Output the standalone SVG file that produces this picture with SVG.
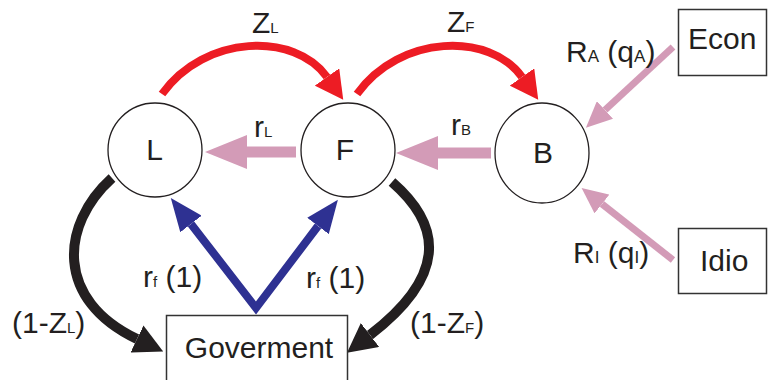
<svg xmlns="http://www.w3.org/2000/svg" width="769" height="380" viewBox="0 0 769 380">
<style>
text{font-family:"Liberation Sans",Arial,sans-serif;font-size:30px;fill:#231f20}
.s{font-size:15px}
.s2{font-size:17px}
.node{fill:#fff;stroke:#231f20;stroke-width:1.3}
.box{fill:#fff;stroke:#333;stroke-width:1.5}
.red{fill:none;stroke:#ed1c24;stroke-width:8}
.pink{fill:none;stroke:#d39bb7;stroke-width:11}
.pinkd{fill:none;stroke:#d39bb7;stroke-width:7}
.blue{fill:none;stroke:#2e3192;stroke-width:8;stroke-linejoin:miter}
.blk{fill:none;stroke:#231f20;stroke-width:10}
</style>
<defs>
<marker id="hr" viewBox="0 -15 28 30" markerUnits="userSpaceOnUse" markerWidth="28" markerHeight="30" refX="0" refY="0" orient="auto"><path d="M0,-15 L28,0 L0,15 z" fill="#ed1c24"/></marker>
<marker id="hp" viewBox="0 -17 42 34" markerUnits="userSpaceOnUse" markerWidth="42" markerHeight="34" refX="0" refY="0" orient="auto"><path d="M0,-17 L42,0 L0,17 z" fill="#d39bb7"/></marker>
<marker id="hpd" viewBox="0 -12 26 24" markerUnits="userSpaceOnUse" markerWidth="26" markerHeight="24" refX="0" refY="0" orient="auto"><path d="M0,-12 L26,0 L0,12 z" fill="#d39bb7"/></marker>
<marker id="hb" viewBox="0 -13.5 33 27" markerUnits="userSpaceOnUse" markerWidth="33" markerHeight="27" refX="0" refY="0" orient="auto-start-reverse"><path d="M0,-13.5 L33,0 L0,13.5 z" fill="#2e3192"/></marker>
<marker id="hk" viewBox="0 -15 29 30" markerUnits="userSpaceOnUse" markerWidth="29" markerHeight="30" refX="0" refY="0" orient="auto"><path d="M0,-15 L29,0 L0,15 z" fill="#231f20"/></marker>
</defs>

<g id="connectors">
<path class="red" d="M162,94 C205,34 295,32 327,77" marker-end="url(#hr)"/>
<path class="red" d="M357,94 C400,34 490,32 522,77" marker-end="url(#hr)"/>
<path class="pink" d="M296,152 L247,152" marker-end="url(#hp)"/>
<path class="pink" d="M491,153 L438,153" marker-end="url(#hp)"/>
<path class="pinkd" d="M673,47 L605,110" marker-end="url(#hpd)"/>
<path class="pinkd" d="M673,260 L602,204" marker-end="url(#hpd)"/>
<path class="blue" d="M191,224 L256,308 L318,226" marker-start="url(#hb)" marker-end="url(#hb)"/>
<path class="blk" d="M112,178 C60,225 55,300 137,339" marker-end="url(#hk)"/>
<path class="blk" d="M392,182 C438,222 452,272 370,335" marker-end="url(#hk)"/>
<text x="252" y="33">Z<tspan class="s">L</tspan></text>
<text x="447" y="32">Z<tspan class="s">F</tspan></text>
<text x="254" y="137">r<tspan class="s">L</tspan></text>
<text x="451" y="135">r<tspan class="s">B</tspan></text>
<text x="143" y="287">r<tspan class="s">f</tspan> (1)</text>
<text x="306" y="288">r<tspan class="s">f</tspan> (1)</text>
<text x="12" y="333">(1-Z<tspan class="s">L</tspan>)</text>
<text x="410" y="333">(1-Z<tspan class="s">F</tspan>)</text>
<text x="566" y="62">R<tspan class="s2">A</tspan> (q<tspan class="s2">A</tspan>)</text>
<text x="573" y="263">R<tspan class="s2">I</tspan> (q<tspan class="s2">I</tspan>)</text>
</g>

<g id="node-L"><circle class="node" cx="155" cy="150" r="47"/><text x="154.5" y="160" text-anchor="middle">L</text></g>
<g id="node-F"><circle class="node" cx="348" cy="150" r="47"/><text x="345" y="160" text-anchor="middle">F</text></g>
<g id="node-B"><ellipse class="node" cx="542" cy="153" rx="47" ry="50"/><text x="543" y="163" text-anchor="middle">B</text></g>
<g id="node-Econ"><rect class="box" x="678.5" y="9.5" width="88" height="66"/><text x="688" y="49">Econ</text></g>
<g id="node-Idio"><rect class="box" x="678.5" y="228.5" width="88" height="65"/><text x="700" y="271">Idio</text></g>
<g id="node-Goverment"><rect class="box" x="166.5" y="315.5" width="181" height="80"/><text x="259" y="358" text-anchor="middle">Goverment</text></g>
</svg>
